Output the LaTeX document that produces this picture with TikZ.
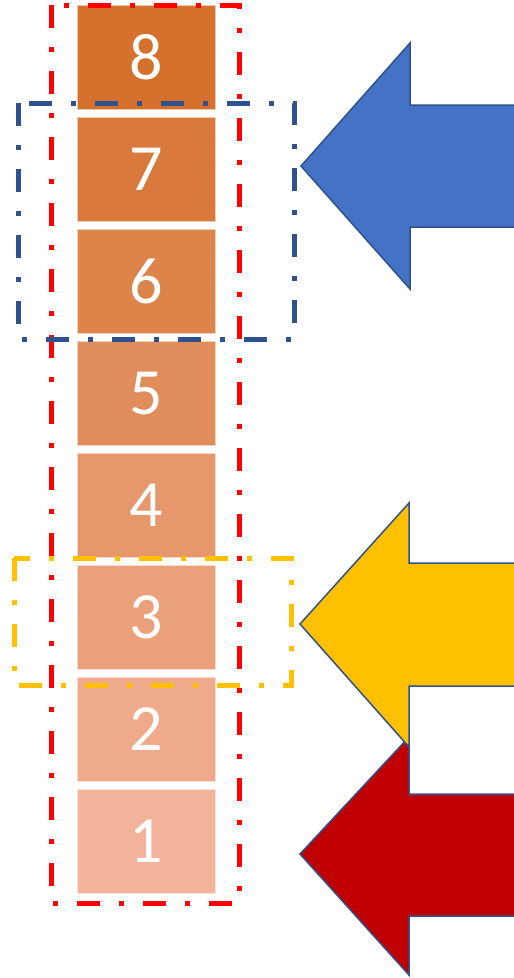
\documentclass[tikz,border=0pt]{standalone}
\usepackage{fontspec}
\setmainfont{Carlito}
\definecolor{cEight}{HTML}{D5712C}
\definecolor{cSeven}{HTML}{D97A3C}
\definecolor{cSix}{HTML}{DD844B}
\definecolor{cFive}{HTML}{E18D5B}
\definecolor{cFour}{HTML}{E6976B}
\definecolor{cThree}{HTML}{EAA07B}
\definecolor{cTwo}{HTML}{EEAA8A}
\definecolor{cOne}{HTML}{F2B39A}
\definecolor{arrowedge}{HTML}{2F528F}
\definecolor{arrowblue}{HTML}{4472C4}
\definecolor{arrowyellow}{HTML}{FFC000}
\definecolor{arrowred}{HTML}{C00000}
\definecolor{frameblue}{HTML}{2F528F}
\definecolor{frameyellow}{HTML}{FFC000}
\definecolor{framered}{HTML}{FF0000}
\tikzset{
  numbox/.style={fill=#1, draw=white!60!#1, line width=1pt, minimum width=138pt, minimum height=104pt,
    inner sep=0pt, text=white, font=\fontsize{66}{66}\selectfont},
  dashframe/.style={draw=#1, line width=5pt, dash pattern=on 23pt off 19pt on 5pt off 19pt},
  bigarrow/.style={fill=#1, draw=arrowedge, line width=1.5pt, line join=miter}
}
\begin{document}
\begin{tikzpicture}[x=1pt,y=-1pt]
\useasboundingbox (0,0) rectangle (514,978);
\clip (0,0) rectangle (514,978);
\fill[white] (0,0) rectangle (514,978);
% boxes
\node[numbox=cEight] (b8) at (146,57.5) {8};
\node[numbox=cSeven] (b7) at (146,169.5) {7};
\node[numbox=cSix] (b6) at (146,281.5) {6};
\node[numbox=cFive] (b5) at (146,393.5) {5};
\node[numbox=cFour] (b4) at (146,505.5) {4};
\node[numbox=cThree] (b3) at (146,617.5) {3};
\node[numbox=cTwo] (b2) at (146,729.5) {2};
\node[numbox=cOne] (b1) at (146,841.5) {1};
% frames
\draw[dashframe=framered] (51,5) rectangle (239,903);
\draw[dashframe=frameblue] (18,103) rectangle (294,339);
\draw[dashframe=frameyellow] (14,558) rectangle (291,685);
% arrows
\draw[bigarrow=arrowred] (300,854) -- (409,737) -- (409,794) -- (520,794) -- (520,916) -- (409,916) -- (409,975) -- cycle;
\draw[bigarrow=arrowyellow] (300,624) -- (409,503) -- (409,563) -- (520,563) -- (520,686) -- (409,686) -- (409,747) -- cycle;
\draw[bigarrow=arrowblue] (301,166) -- (410,43) -- (410,105) -- (520,105) -- (520,227) -- (410,227) -- (410,289) -- cycle;
\end{tikzpicture}
\end{document}
